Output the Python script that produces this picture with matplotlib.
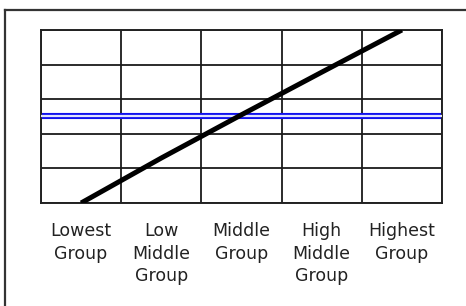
import matplotlib.pyplot as plt
from matplotlib.lines import Line2D

# category labels and the two series
groups = ['Lowest\nGroup', 'Low\nMiddle\nGroup', 'Middle\nGroup',
          'High\nMiddle\nGroup', 'Highest\nGroup']
trend = [0.0, 1.3, 2.55, 3.78, 5.0]
reference_level = 2.5

fig = plt.figure(figsize=(4.66, 3.06), dpi=100)
ax = fig.add_axes([0.088, 0.3366, 0.8605, 0.5654])

centers = [i + 0.5 for i in range(len(groups))]

# blue double line: thick blue with a pale core
ax.axhline(reference_level, color='#1010ee', lw=4.4, zorder=2)
ax.axhline(reference_level, color='#dfe3ff', lw=1.6, zorder=3)

ax.plot(centers, trend, color='black', lw=3.6, solid_capstyle='butt', zorder=4)

ax.set_xlim(0, 5)
ax.set_ylim(0, 5)
ax.set_xticks(range(6), minor=False)
ax.set_yticks(range(6))
ax.grid(True, color='#1a1a1a', lw=1.3, zorder=1)
ax.set_yticklabels([])
ax.set_xticklabels([])
ax.set_xticks(centers, minor=True)
ax.set_xticklabels(groups, minor=True, fontsize=12.5, color='#222222',
                   linespacing=1.3, va='top')
ax.tick_params(which='both', length=0)
ax.tick_params(axis='x', which='minor', pad=14)
for s in ax.spines.values():
    s.set_color('#222222')
    s.set_linewidth(1.4)

# outer frame, only left and top edges fall inside the picture
fig.add_artist(Line2D([0.0107, 0.0107], [0.967, -0.1], color='#333333', lw=1.6,
                      transform=fig.transFigure))
fig.add_artist(Line2D([0.0107, 1.1], [0.967, 0.967], color='#333333', lw=1.6,
                      transform=fig.transFigure))

fig.savefig('out.png', dpi=100)
